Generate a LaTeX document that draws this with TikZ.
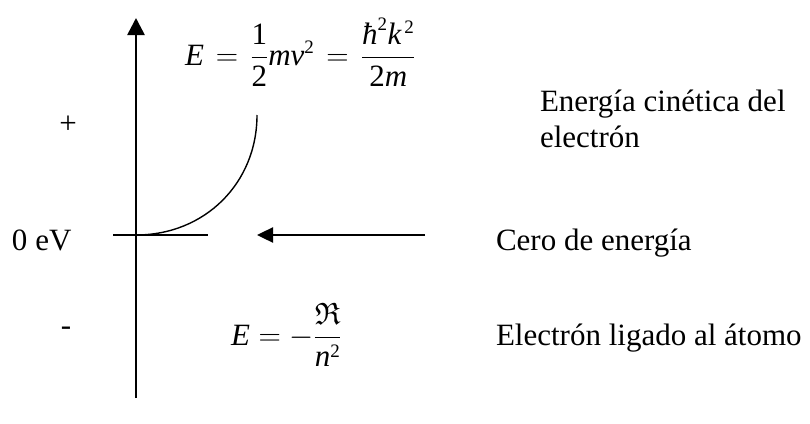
\RequirePackage{fix-cm}
\documentclass[tikz,border=0pt]{standalone}
\usepackage{amsmath}
\usepackage{amsfonts}
\usepackage{fontspec}
\setmainfont{Liberation Serif}
\DeclareMathSizes{31}{31}{19}{14}
\usetikzlibrary{arrows.meta}
\newcommand{\eqgap}{\mkern2mu}
\begin{document}
\begin{tikzpicture}[x=1pt,y=-1pt,
  lbl/.style={inner sep=0pt,outer sep=0pt,font=\fontsize{31}{36}\selectfont},
  axisline/.style={line width=2.6pt,-{Triangle[width=17pt,length=17pt]}},
  ptr/.style={line width=2.4pt,-{Triangle[width=15pt,length=16pt]}},
  thin/.style={line width=1.4pt}]
\useasboundingbox (0,0) rectangle (810,423);
% axis
\coordinate (axbot) at (136,398);
\coordinate (axtop) at (136,18);
\draw[axisline] (axbot) -- (axtop);
% zero line
\coordinate (zl) at (113,235);
\coordinate (zr) at (208,235);
\coordinate (o) at (136,235);
\coordinate (ce) at (257,115);
\draw[thin] (zl) -- (zr);
\draw[thin] (o) .. controls (205,235) and (257,183) .. (ce);
% pointer arrow
\coordinate (pt) at (425,235);
\coordinate (ph) at (257,235);
\draw[ptr] (pt) -- (ph);
% labels
\node[lbl,anchor=center] (plus) at (68,125) {+};
\node[lbl,anchor=center] (minus) at (66,331) {-};
\node[lbl,anchor=base west] (zero) at (12,250) {0 eV};
\node[lbl,anchor=west] (eq1) at (185,52) {$\mathit{E}\eqgap=\eqgap\dfrac{\text{1}}{\text{2}}\mathit{mv}^{\text{2}}\eqgap=\eqgap\dfrac{\textit{ħ}^{\text{2}}\mathit{k}^{\,\text{2}}}{\text{2}\mathit{m}}$};
\node[lbl,anchor=west] (eq2) at (231,335) {$\mathit{E}=-\dfrac{\mathfrak{R}}{\mathit{n}^{\text{2}}}$};
\node[lbl,anchor=base west] (kin1) at (540,111) {Energía cinética del};
\node[lbl,anchor=base west] (kin2) at (540,147) {electrón};
\node[lbl,anchor=base west] (cero) at (496,250) {Cero de energía};
\node[lbl,anchor=base west] (lig) at (496,345) {Electrón ligado al átomo};
\end{tikzpicture}
\end{document}
